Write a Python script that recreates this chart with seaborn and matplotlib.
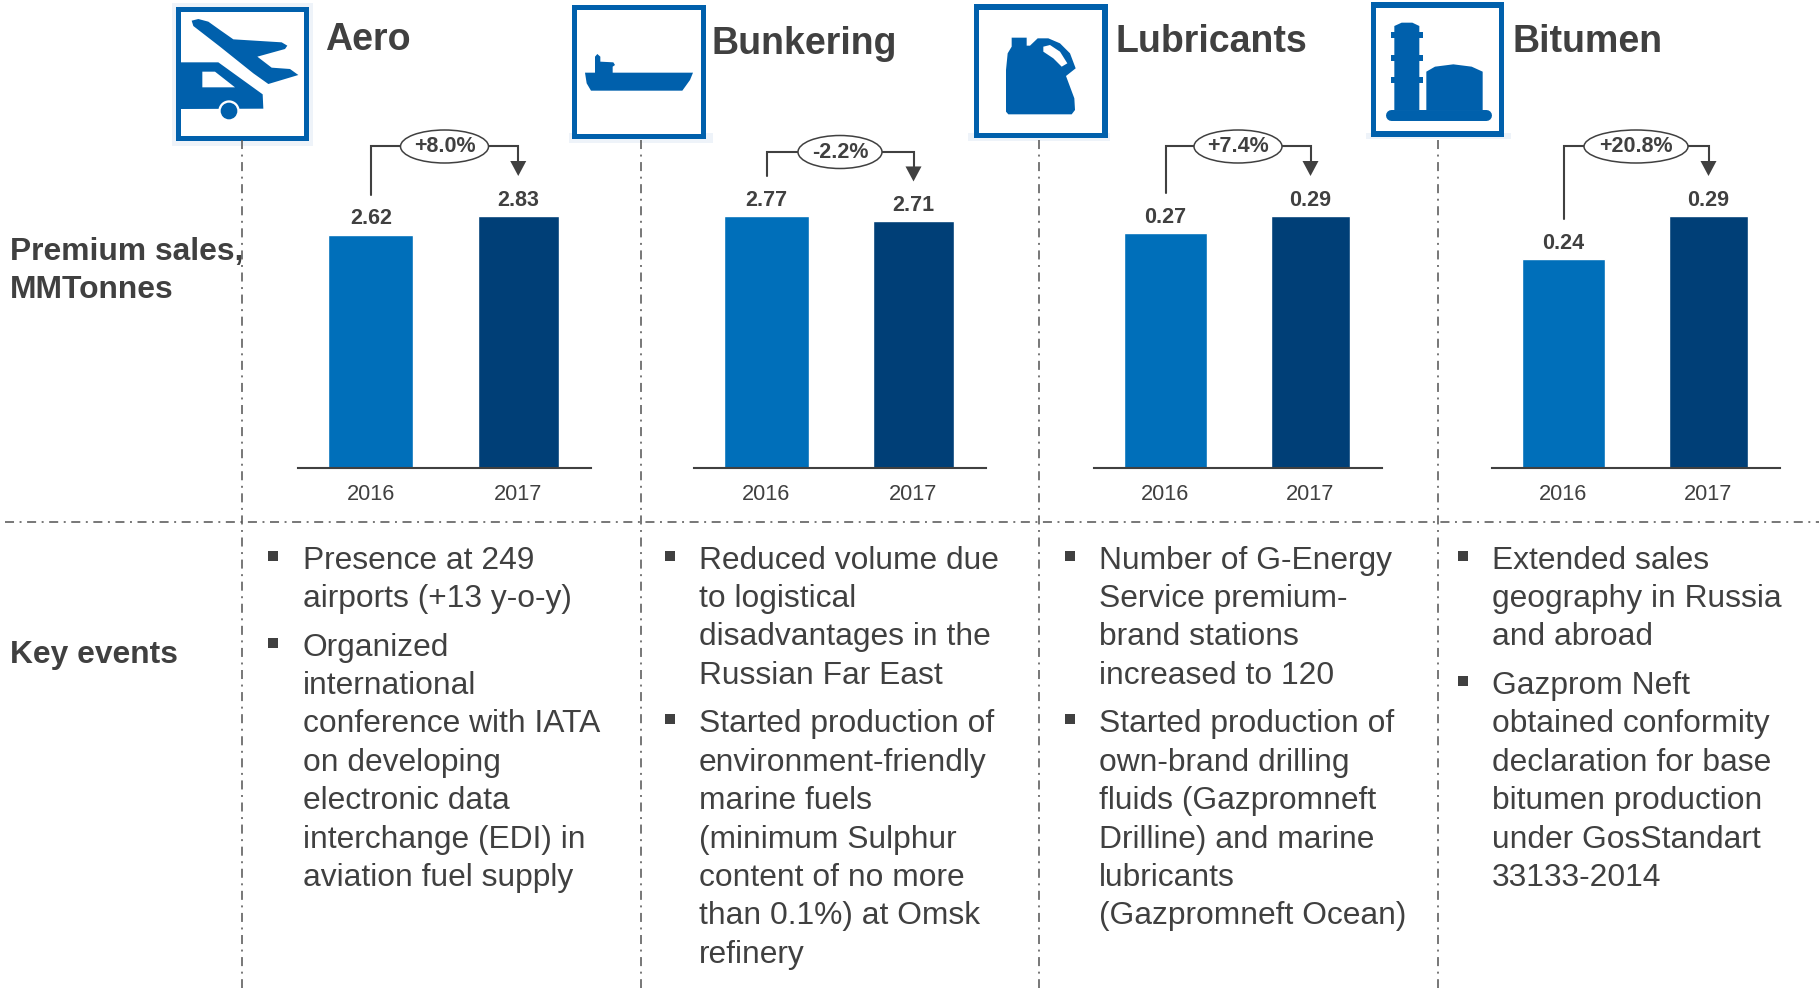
import pandas as pd
import matplotlib.pyplot as plt
from matplotlib.patches import Rectangle, Polygon, Circle, Ellipse
import seaborn as sns

# dados do grafico
products = ['Aero', 'Bunkering', 'Lubricants', 'Bitumen']
years = ['2016', '2017']
aero_sales = [2.62, 2.83]
bunkering_sales = [2.77, 2.71]
lubricants_sales = [0.27, 0.29]
bitumen_sales = [0.24, 0.29]
changes = ['+8.0%', '-2.2%', '+7.4%', '+20.8%']

aero_events = [['Presence at 249', 'airports (+13 y-o-y)'],
               ['Organized', 'international', 'conference with IATA', 'on developing',
                'electronic data', 'interchange (EDI) in', 'aviation fuel supply']]
bunkering_events = [['Reduced volume due', 'to logistical', 'disadvantages in the', 'Russian Far East'],
                    ['Started production of', 'environment-friendly', 'marine fuels',
                     '(minimum Sulphur', 'content of no more', 'than 0.1%) at Omsk', 'refinery']]
lubricants_events = [['Number of G-Energy', 'Service premium-', 'brand stations', 'increased to 120'],
                     ['Started production of', 'own-brand drilling', 'fluids (Gazpromneft',
                      'Drilline) and marine', 'lubricants', '(Gazpromneft Ocean)']]
bitumen_events = [['Extended sales', 'geography in Russia', 'and abroad'],
                  ['Gazprom Neft', 'obtained conformity', 'declaration for base',
                   'bitumen production', 'under GosStandart', '33133-2014']]

sales = [aero_sales, bunkering_sales, lubricants_sales, bitumen_sales]
events = [aero_events, bunkering_events, lubricants_events, bitumen_events]

# layout em pixels
W, H = 1819, 988
BASE_Y = 468
BAR_H = 252
axes_x = [(297, 592), (693, 987), (1093, 1383), (1491, 1781)]
vlines_x = [242, 640.5, 1038.5, 1437.5]
bullet_x = [268, 665, 1065, 1458]
text_x = [302.5, 699, 1099, 1492]
title_pos = [(325, 40.5), (711, 44.5), (1115, 41.5), (1512, 42.5)]
bracket_y = [146.5, 152, 146.5, 146.5]
ellipse_w = [88, 84, 88, 104]

TEXT = '#404040'
ICON = '#0060AC'
HALO = '#EEF3F9'
palette = {'2016': '#006FBA', '2017': '#003F77'}

sns.set_style('white')
plt.rcParams['font.family'] = ['Liberation Sans', 'DejaVu Sans']
plt.rcParams['lines.scale_dashes'] = False

fig = plt.figure(figsize=(W / 100, H / 100), dpi=100)

# eixo em pixels por cima de tudo
over = fig.add_axes([0, 0, 1, 1], zorder=5)
over.set_xlim(0, W)
over.set_ylim(H, 0)
over.axis('off')
over.patch.set_alpha(0)


def to_px(ax, x, y):
    return over.transData.inverted().transform(ax.transData.transform((x, y)))


def poly(x0, pts, color=ICON):
    over.add_patch(Polygon([(x0 + a / 3, b / 3) for a, b in pts], closed=True,
                           facecolor=color, edgecolor='none'))


def frame(x0, x1, x2, y1, y2, halo):
    hx1, hy1, hx2, hy2 = halo
    over.add_patch(Rectangle((x0 + hx1 / 3, hy1 / 3), (hx2 - hx1) / 3, (hy2 - hy1) / 3,
                             facecolor=HALO, edgecolor='none'))
    over.add_patch(Rectangle((x0 + x1 / 3, y1 / 3), (x2 - x1) / 3, (y2 - y1) / 3,
                             facecolor=ICON, edgecolor='none'))
    over.add_patch(Rectangle((x0 + x1 / 3 + 5.3, y1 / 3 + 5.3), (x2 - x1) / 3 - 10.6,
                             (y2 - y1) / 3 - 10.6, facecolor='white', edgecolor='none'))


def draw_icons():
    # aviao + caminhao
    x0 = 170
    frame(x0, 17, 418, 20, 423, (5, 8, 430, 437))
    poly(x0, [(65, 62), (85, 57), (115, 65), (150, 90), (190, 118), (335, 127), (352, 137),
              (345, 147), (262, 170), (305, 203), (360, 207), (385, 225), (295, 252),
              (250, 220), (150, 140), (70, 78)])
    poly(x0, [(33, 187), (145, 187), (278, 283), (280, 326), (33, 327)])
    poly(x0, [(97, 215), (135, 215), (195, 262), (97, 262)], 'white')
    over.add_patch(Circle((x0 + 177 / 3, 333 / 3), 32 / 3, facecolor='white', edgecolor='none'))
    over.add_patch(Circle((x0 + 177 / 3, 333 / 3), 25 / 3, facecolor=ICON, edgecolor='none'))

    # navio
    x0 = 565
    frame(x0, 20, 424, 15, 418, (12, 400, 445, 430))
    poly(x0, [(60, 218), (90, 218), (90, 170), (97, 162), (106, 170), (106, 185), (145, 187),
              (150, 195), (143, 200), (143, 218), (384, 218), (375, 240), (352, 272),
              (78, 272), (65, 250)])

    # galao
    x0 = 965
    frame(x0, 27, 428, 13, 415, (10, 400, 435, 422))
    poly(x0, [(140, 113), (185, 113), (185, 137), (195, 137), (218, 115), (250, 115),
              (285, 130), (315, 160), (332, 205), (303, 228), (328, 295), (330, 330),
              (320, 343), (130, 343), (123, 335), (123, 210), (128, 160), (140, 140)])
    poly(x0, [(235, 140), (255, 135), (285, 155), (307, 190), (290, 200), (265, 175), (235, 155)],
         'white')

    # refinaria
    x0 = 1365
    frame(x0, 17, 418, 7, 410, (3, 400, 438, 418))
    poly(x0, [(88, 78), (110, 68), (142, 68), (163, 78), (163, 330), (88, 330)])
    for fy in (97, 164, 231):
        poly(x0, [(77, fy), (175, fy), (175, fy + 18), (77, fy + 18)])
    poly(x0, [(184, 215), (210, 200), (265, 193), (320, 200), (353, 215), (353, 330), (184, 330)])
    over.plot([x0 + 78 / 3, x0 + 362 / 3], [344 / 3, 344 / 3], color=ICON, lw=7.9,
              solid_capstyle='round')


# linhas tracejadas
dash = (0, (6.5, 4, 1.4, 4))
for x in vlines_x:
    over.plot([x, x], [140, H], color='#595959', lw=1.15, ls=dash)
over.plot([5, W], [522, 522], color='#595959', lw=1.15, ls=dash)

draw_icons()

# barras, uma por produto
for i, product in enumerate(products):
    df = pd.DataFrame({'year': years, 'sales': sales[i]})
    x1, x2 = axes_x[i]
    ax = fig.add_axes([x1 / W, (H - BASE_Y) / H, (x2 - x1) / W, BAR_H / H], zorder=2)
    sns.barplot(data=df, x='year', y='sales', hue='year', palette=palette, width=0.575,
                saturation=1, dodge=False, legend=False, ax=ax)
    ax.set_xlim(-0.5, 1.5)
    ax.set_ylim(0, max(sales[i]))
    ax.set_xlabel('')
    ax.set_ylabel('')
    ax.set_yticks([])
    ax.patch.set_alpha(0)
    sns.despine(ax=ax, left=True)
    ax.spines['bottom'].set_color(TEXT)
    ax.spines['bottom'].set_linewidth(1.5)
    ax.spines['bottom'].set_bounds(-0.49, 1.495)
    ax.tick_params(axis='x', length=0, pad=11.5, labelsize=15.7, labelcolor=TEXT)
    # a barra de 2017 e um pouco mais estreita
    for bar in ax.containers[1]:
        bar.set_x(bar.get_x() + 0.012)
        bar.set_width(bar.get_width() - 0.024)
    for cont in ax.containers:
        ax.bar_label(cont, fmt='%.2f', padding=3.8, fontsize=15.5, fontweight='bold',
                     color=TEXT, clip_on=False)

    # conector com a variacao
    lx, ly = to_px(ax, 0, sales[i][0])
    rx, ry = to_px(ax, 1, sales[i][1])
    by = bracket_y[i]
    over.plot([lx, lx, rx, rx], [ly - 40, by, by, ry - 52], color=TEXT, lw=1.5,
              solid_joinstyle='miter')
    over.add_patch(Polygon([(rx - 8, ry - 55), (rx + 8, ry - 55), (rx, ry - 40)], closed=True,
                           facecolor=TEXT, edgecolor='none'))
    mx = (lx + rx) / 2
    over.add_patch(Ellipse((mx, by), ellipse_w[i], 33, facecolor='white', edgecolor=TEXT, lw=1.1,
                           zorder=4))
    over.text(mx, by + 0.5, changes[i], ha='center', va='center', fontsize=15.5, fontweight='bold',
              color=TEXT, zorder=5)

    # titulo
    over.text(title_pos[i][0], title_pos[i][1], product, ha='left', va='center', fontsize=27,
              fontweight='bold', color=TEXT)

    # eventos
    y = 568.5
    for bullet in events[i]:
        over.add_patch(Rectangle((bullet_x[i], y - 18), 10, 10, facecolor=TEXT, edgecolor='none'))
        for line in bullet:
            over.text(text_x[i], y, line, ha='left', va='baseline', fontsize=22.9, color=TEXT)
            y += 38.4
        y += 10.3

# rotulos da esquerda
over.text(9.5, 252, 'Premium sales,', va='center', fontsize=22.9, fontweight='bold', color=TEXT)
over.text(9.5, 290, 'MMTonnes', va='center', fontsize=22.9, fontweight='bold', color=TEXT)
over.text(9.5, 655, 'Key events', va='center', fontsize=22.9, fontweight='bold', color=TEXT)

fig.savefig('out.png', dpi=100)
plt.close(fig)
